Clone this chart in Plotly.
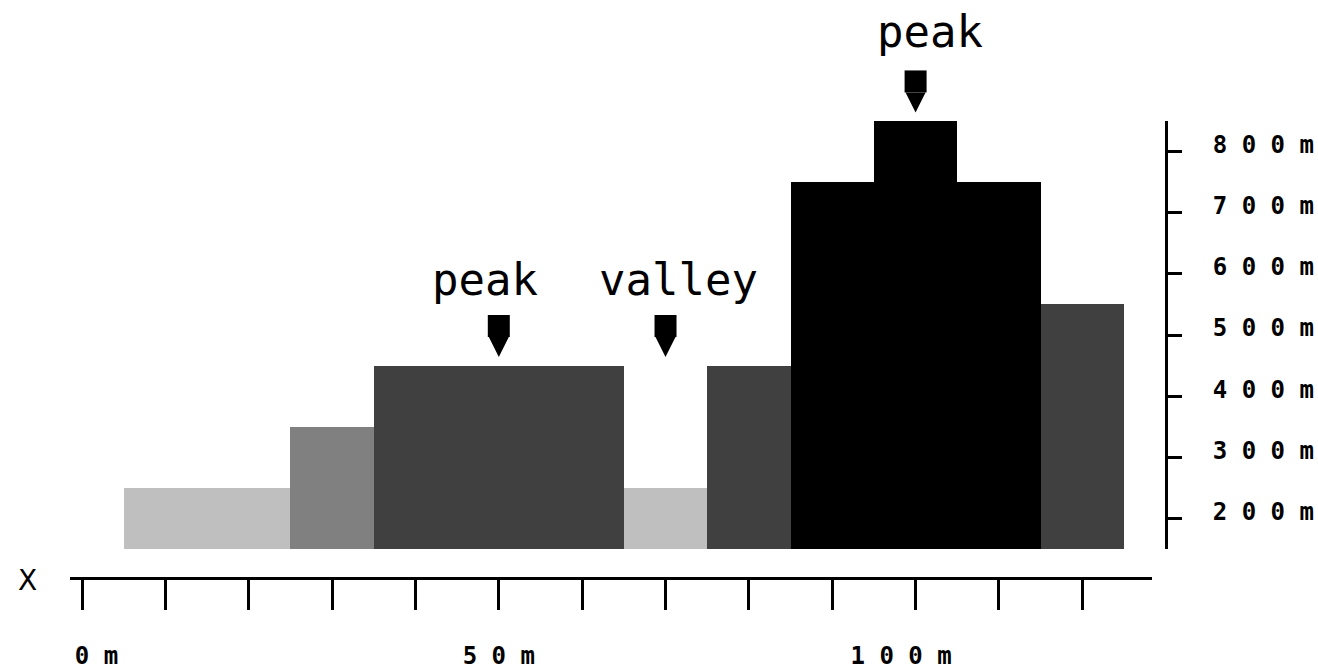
import plotly.graph_objects as go

# ---- data ----
distance_m = [10, 20, 30, 40, 50, 60, 70, 80, 90, 100, 110, 120]
elevation_m = [250, 250, 350, 450, 450, 450, 250, 450, 750, 850, 750, 550]
tone = ["light", "light", "mid", "dark", "dark", "dark", "light", "dark",
        "black", "black", "black", "dark"]

x_tick_vals = [0, 10, 20, 30, 40, 50, 60, 70, 80, 90, 100, 110, 120]
x_tick_labels = {0: "0m", 50: "50m", 100: "100m"}
y_tick_vals = [200, 300, 400, 500, 600, 700, 800]
y_tick_labels = ["200m", "300m", "400m", "500m", "600m", "700m", "800m"]

note_x = [50, 70, 100]
note_level = [450, 450, 850]
note_text = ["peak", "valley", "peak"]

# ---- style ----
W, H = 1318, 669
ML, MR, MT, MB = 70, 152, 0, 91
tone_color = {"light": "#bfbfbf", "mid": "#808080", "dark": "#404040", "black": "#000000"}
NB = "\u00a0"
MONO = "DejaVu Sans Mono"

x_range = [-1.44, 128.36]
y_range = [150, 850]
plot_w = W - ML - MR
plot_h = H - MT - MB            # 578
axis_bottom_px = 29             # y=150 sits 29px above x axis line
axis_top_px = plot_h - 121      # y=850 at page y 121
y_dom = [axis_bottom_px / plot_h, axis_top_px / plot_h]
px_per_m = (axis_top_px - axis_bottom_px) / (y_range[1] - y_range[0])
y2_range = [y_range[0], y_range[0] + (plot_h - axis_bottom_px) / px_per_m]


def spaced(s):
    return NB.join(list(s))


x_pad = {0: (2, 0), 50: (0, 0), 100: (0, 2)}
x_text = []
for v in x_tick_vals:
    if v in x_tick_labels:
        pre, post = x_pad[v]
        x_text.append(NB * pre + spaced(x_tick_labels[v]) + NB * post)
    else:
        x_text.append("")

fig = go.Figure()
fig.add_trace(go.Bar(
    x=distance_m, y=elevation_m, width=10,
    marker=dict(color=[tone_color[t] for t in tone], line=dict(width=0)),
    hoverinfo="skip", showlegend=False,
))

# pointer markers (arrow tip + body) above annotated spots, on an overlay axis
tip_off = 14
arrow_size = 20
tips = [lv + tip_off for lv in note_level]
bodies = [t + (arrow_size + 11) / px_per_m for t in tips]
fig.add_trace(go.Scatter(
    x=note_x, y=tips, mode="markers", yaxis="y2",
    marker=dict(symbol="arrow-down", size=arrow_size, color="black", line=dict(width=0)),
    hoverinfo="skip", showlegend=False,
))
fig.add_trace(go.Scatter(
    x=note_x, y=bodies, mode="markers", yaxis="y2",
    marker=dict(symbol="square", size=22, color="black", line=dict(width=0)),
    hoverinfo="skip", showlegend=False,
))

x_shifts = [-14, 13, 14]
y_shifts = [8, 8, 11]
body_top = [b + 11 / px_per_m for b in bodies]
for xv, yv, txt, xs, ys in zip(note_x, body_top, note_text, x_shifts, y_shifts):
    fig.add_annotation(
        x=xv, y=yv, xref="x", yref="y2", text=txt, showarrow=False,
        xanchor="center", yanchor="bottom", xshift=xs, yshift=ys,
        font=dict(family=MONO, size=44, color="black"),
    )

fig.add_annotation(
    x=(27 - ML) / plot_w, y=(MT + plot_h - 580) / plot_h, xref="paper", yref="paper",
    text="X", showarrow=False, xanchor="center", yanchor="middle",
    font=dict(family="DejaVu Sans", size=28, color="black"),
)

fig.update_layout(
    width=W, height=H,
    margin=dict(l=ML, r=MR, t=MT, b=MB, pad=0),
    plot_bgcolor="rgba(0,0,0,0)", paper_bgcolor="white",
    bargap=0,
    showlegend=False,
    xaxis=dict(
        domain=[0, (1152 - ML) / plot_w], range=x_range,
        anchor="free", position=0, automargin=False,
        showgrid=False, zeroline=False,
        showline=True, linecolor="black", linewidth=3,
        ticks="outside", ticklen=30, tickwidth=3, tickcolor="black",
        tickmode="array", tickvals=x_tick_vals, ticktext=x_text,
        ticklabelstandoff=25,
        tickfont=dict(family=MONO, size=24, color="black", weight="bold"),
    ),
    yaxis=dict(
        domain=y_dom, range=y_range,
        anchor="free", position=1, side="right", automargin=False,
        showgrid=False, zeroline=False,
        showline=True, linecolor="black", linewidth=3,
        ticks="outside", ticklen=14, tickwidth=3, tickcolor="black",
        tickmode="array", tickvals=y_tick_vals,
        ticktext=[spaced(t) for t in y_tick_labels],
        ticklabelstandoff=26, ticklabelshift=-7,
        tickfont=dict(family=MONO, size=24, color="black", weight="bold"),
    ),
    yaxis2=dict(
        domain=[y_dom[0], 1], range=y2_range,
        anchor="free", position=0, automargin=False,
        visible=False, showgrid=False, zeroline=False, fixedrange=True,
    ),
)

fig.write_html(
    "out.html",
    config={"displayModeBar": False},
    post_script="document.body.style.margin='0';document.body.style.overflow='hidden';",
)
